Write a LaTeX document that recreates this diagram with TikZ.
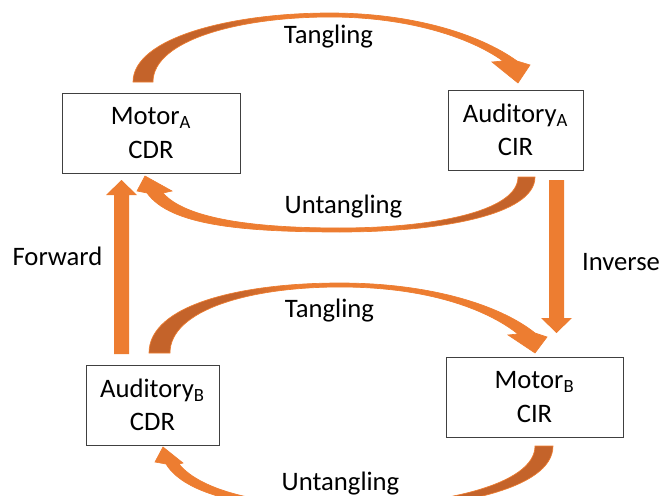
\documentclass[tikz,border=0pt]{standalone}
\usepackage{fontspec}
\setmainfont{Carlito}
\definecolor{arrOr}{HTML}{ED7D31}
\definecolor{arrDk}{HTML}{C4632A}
\definecolor{boxgray}{HTML}{404040}
\pgfdeclarehorizontalshading{bandshade}{100bp}{color(0bp)=(arrDk); color(25bp)=(arrDk); color(36bp)=(arrDk); color(43bp)=(arrOr); color(100bp)=(arrOr)}
\tikzset{
  box/.style={draw=boxgray, line width=0.75pt, fill=white, align=center,
    font=\fontsize{20}{25}\selectfont, inner sep=0pt, minimum height=60pt},
  lbl/.style={anchor=base, font=\fontsize{20}{24}\selectfont, inner sep=0pt},
  band/.style={shading=bandshade, draw=arrOr, line width=0.5pt},
  blockarrow/.style={fill=arrOr}
}
\begin{document}
\begin{tikzpicture}[x=0.75pt, y=-0.75pt]
\useasboundingbox (0,0) rectangle (662,496);
\clip (0,0) rectangle (662,496);

% boxes
\node[box, minimum width=133.5pt] (MA) at (151,133) {Motor\textsubscript{A}\\CDR};
\node[box, minimum width=101.25pt] (AA) at (515.5,130) {Auditory\textsubscript{A}\\CIR};
\node[box, minimum width=99.75pt] (AB) at (152.5,405) {Auditory\textsubscript{B}\\CDR};
\node[box, minimum width=132.75pt] (MB) at (534.5,397) {Motor\textsubscript{B}\\CIR};

% top Tangling
\shadedraw[band] (133,82) .. controls (133,38) and (230,13) .. (330,13)
  .. controls (410,13) and (478,33) .. (517,61) -- (530,65) -- (518,83) -- (492,62) -- (503,61)
  .. controls (468,36) and (405,17) .. (330,17)
  .. controls (240,17) and (153,40) .. (153,82) -- cycle;
% top Untangling
\shadedraw[band, shading angle=180] (535,177) .. controls (535,215) and (440,232) .. (340,232)
  .. controls (240,232) and (170,225) .. (147,193) -- (137,191) -- (145,176) -- (172,191) -- (163,193)
  .. controls (185,218) and (250,228) .. (340,228)
  .. controls (430,228) and (518,212) .. (518,177) -- cycle;
% middle Tangling
\shadedraw[band] (149,353) .. controls (149,305) and (240,283) .. (340,283)
  .. controls (430,283) and (500,305) .. (535,333) -- (547,337) -- (535,353) -- (508,335) -- (518,334)
  .. controls (485,308) and (425,287) .. (340,287)
  .. controls (250,287) and (170,310) .. (170,353) -- cycle;
% bottom Untangling
\shadedraw[band, shading angle=180] (553,446) .. controls (553,490) and (450,510) .. (345,510)
  .. controls (250,510) and (185,495) .. (166,464) -- (155,462) -- (163,447) -- (183,463) -- (179,464)
  .. controls (200,490) and (260,506) .. (345,506)
  .. controls (440,506) and (535,485) .. (535,446) -- cycle;

% Forward
\fill[blockarrow] (114,354) -- (114,195) -- (106,195) -- (121.5,180) -- (137,195) -- (129,195) -- (129,354) -- cycle;
% Inverse
\fill[blockarrow] (549,180) -- (549,318) -- (541,318) -- (556.5,333) -- (572,318) -- (564,318) -- (564,180) -- cycle;

% labels
\node[lbl] (t1) at (328.5,43) {Tangling};
\node[lbl] (u1) at (343.5,213) {Untangling};
\node[lbl] (t2) at (329.5,317) {Tangling};
\node[lbl] (u2) at (340.5,490) {Untangling};
\node[lbl] (fw) at (57.5,265) {Forward};
\node[lbl] (iv) at (621,270) {Inverse};
\end{tikzpicture}
\end{document}
